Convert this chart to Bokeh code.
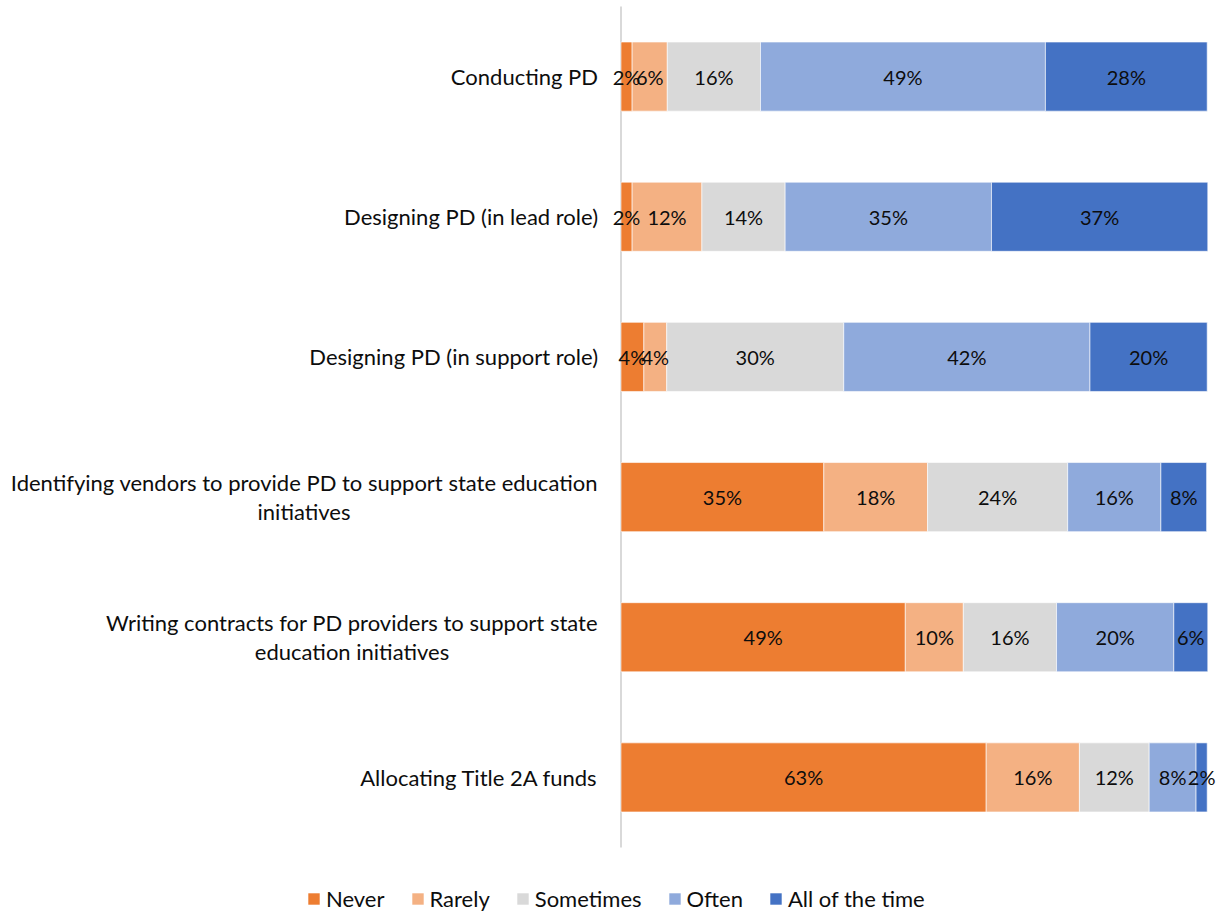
from bokeh.plotting import figure
from bokeh.models import ColumnDataSource, Legend, LegendItem, Range1d
from bokeh.core.properties import value
from bokeh.embed import file_html
from bokeh.resources import INLINE

# ---------------- data ----------------
categories = [
    "Conducting PD",
    "Designing PD (in lead role)",
    "Designing PD (in support role)",
    "Identifying vendors to provide PD to support state education initiatives",
    "Writing contracts for PD providers to support state education initiatives",
    "Allocating Title 2A funds",
]
category_lines = [
    ["Conducting PD"],
    ["Designing PD (in lead role)"],
    ["Designing PD (in support role)"],
    ["Identifying vendors to provide PD to support state education", "initiatives"],
    ["Writing contracts for PD providers to support state", "education initiatives"],
    ["Allocating Title 2A funds"],
]
series = ["Never", "Rarely", "Sometimes", "Often", "All of the time"]
never = [1.9, 1.9, 3.9, 34.6, 48.5, 62.3]
rarely = [6.0, 11.9, 3.9, 17.7, 9.9, 15.9]
sometimes = [15.9, 14.2, 30.2, 23.9, 15.9, 11.9]
often = [48.6, 35.2, 42.0, 15.9, 20.0, 8.0]
all_time = [27.6, 36.9, 20.0, 7.8, 5.8, 1.9]

never_lbl = ["2%", "2%", "4%", "35%", "49%", "63%"]
rarely_lbl = ["6%", "12%", "4%", "18%", "10%", "16%"]
sometimes_lbl = ["16%", "14%", "30%", "24%", "16%", "12%"]
often_lbl = ["49%", "35%", "42%", "16%", "20%", "8%"]
all_lbl = ["28%", "37%", "20%", "8%", "6%", "2%"]

colors = ["#ED7D31", "#F4B183", "#D9D9D9", "#8FAADC", "#4472C4"]

# ---------------- layout / styling ----------------
W, H = 1226, 913
PLOT_L, PLOT_R = 620.5, 1206.7      # pixel extent of 0..100
PLOT_T, PLOT_B = 6.0, 847.0         # pixel extent of category band
FONT = value("Lato")
TEXT_COLOR = "#0d0d0d"
CAT_SIZE = "22px"
PCT_SIZE = "20px"
LEG_SIZE = "22px"

n = len(categories)
ppx = (PLOT_R - PLOT_L) / 100.0
ppy = (PLOT_B - PLOT_T) / n
x_range = Range1d(-PLOT_L / ppx, 100 + (W - PLOT_R) / ppx)
y_range = Range1d(n + (H - PLOT_B) / ppy, -PLOT_T / ppy)

values = [never, rarely, sometimes, often, all_time]
labels = [never_lbl, rarely_lbl, sometimes_lbl, often_lbl, all_lbl]
ypos = [i + 0.5 for i in range(n)]

data = {"y": ypos}
for s, v in zip(series, values):
    data[s] = v
source = ColumnDataSource(data)

p = figure(
    width=W, height=H, x_range=x_range, y_range=y_range,
    output_backend="svg", toolbar_location=None,
    min_border=0, min_border_left=0, min_border_right=0,
    min_border_top=0, min_border_bottom=0,
)
p.outline_line_color = None
p.xgrid.visible = False
p.ygrid.visible = False
p.xaxis.visible = False
p.yaxis.visible = False

# vertical category axis line
p.segment(x0=[0], y0=[0], x1=[0], y1=[n], line_color="#D9D9D9", line_width=2)

renderers = p.hbar_stack(series, y="y", height=0.493, color=colors,
                         line_color="white", line_width=0.6, source=source)

# percentage labels, centred in each segment
lx, ly, lt = [], [], []
for i in range(n):
    cum = 0.0
    for v, lab in zip(values, labels):
        lx.append(cum + v[i] / 2)
        ly.append(ypos[i])
        lt.append(lab[i])
        cum += v[i]
p.text(x=lx, y=ly, text=lt, text_align="center", text_baseline="middle",
       text_font=FONT, text_font_size=PCT_SIZE, text_color=TEXT_COLOR)

# category labels: block right-aligned to the axis, lines centred within block
RIGHT_OFF = -23
LINE_GAP = 29 / ppy
first_half = {3: 294, 4: 246}
c1x, c1y, c1t = [], [], []
c2x, c2y, c2t, c2o = [], [], [], []
for i, lines in enumerate(category_lines):
    if len(lines) == 1:
        c1x.append(0); c1y.append(ypos[i]); c1t.append(lines[0])
    else:
        c1x.append(0); c1y.append(ypos[i] - LINE_GAP / 2); c1t.append(lines[0])
        c2x.append(0); c2y.append(ypos[i] + LINE_GAP / 2); c2t.append(lines[1])
        c2o.append(RIGHT_OFF - first_half[i])
p.text(x=c1x, y=c1y, text=c1t, x_offset=RIGHT_OFF, text_align="right",
       text_baseline="middle", text_font=FONT, text_font_size=CAT_SIZE,
       text_color=TEXT_COLOR)
p.text(x=c2x, y=c2y, text=c2t, x_offset=c2o, text_align="center",
       text_baseline="middle", text_font=FONT, text_font_size=CAT_SIZE,
       text_color=TEXT_COLOR)

legend = Legend(
    items=[LegendItem(label=s, renderers=[r]) for s, r in zip(series, renderers)],
    location=(306, 1), orientation="horizontal",
    glyph_width=15, glyph_height=15, label_standoff=5, spacing=25,
    padding=0, margin=0, border_line_color=None, background_fill_alpha=0,
    label_text_font="Lato", label_text_font_size=LEG_SIZE, label_text_color=TEXT_COLOR,
    label_height=20,
)
p.add_layout(legend)

open("out.html", "w").write(file_html(p, INLINE))
